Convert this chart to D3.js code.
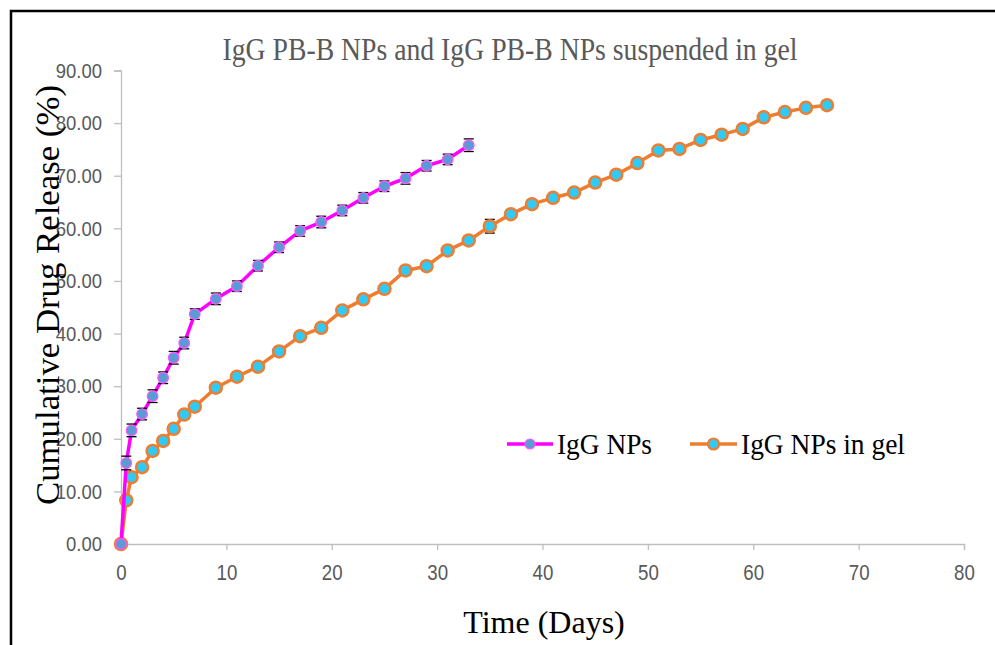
<!DOCTYPE html>
<html>
<head>
<meta charset="utf-8">
<script src="https://cdn.jsdelivr.net/npm/d3@7"></script>
<style>
  html, body { margin: 0; padding: 0; background: #fff; }
  svg { display: block; }
</style>
</head>
<body>
<svg id="chart" width="995" height="645"></svg>
<script>
// ---- Data ----
const npDays   = [0, 0.5, 1, 2, 3, 4, 5, 6, 7, 9, 11, 13, 15, 17, 19, 21, 23, 25, 27, 29, 31, 33];
const npValues = [0, 15.4, 21.6, 24.7, 28.1, 31.6, 35.4, 38.2, 43.7, 46.6, 49.0, 52.9, 56.4, 59.5, 61.2, 63.4, 65.8, 68.0, 69.5, 71.9, 73.1, 75.8];
const npErrors = [0, 1.3, 1.2, 1.1, 1.2, 1.1, 1.2, 1.1, 1.0, 1.1, 1.0, 1.0, 1.0, 1.0, 1.1, 1.0, 1.0, 1.0, 1.1, 1.0, 1.0, 1.2];

const gelDays   = [0, 0.5, 1, 2, 3, 4, 5, 6, 7, 9, 11, 13, 15, 17, 19, 21, 23, 25, 27, 29, 31, 33, 35, 37, 39, 41, 43, 45, 47, 49, 51, 53, 55, 57, 59, 61, 63, 65, 67];
const gelValues = [0, 8.3, 12.7, 14.6, 17.7, 19.6, 21.9, 24.6, 26.1, 29.7, 31.8, 33.7, 36.6, 39.5, 41.1, 44.4, 46.5, 48.5, 52.0, 52.8, 55.8, 57.7, 60.4, 62.7, 64.6, 65.8, 66.8, 68.7, 70.2, 72.4, 74.8, 75.1, 76.8, 77.8, 78.9, 81.1, 82.1, 82.9, 83.4];
const gelErrors = [0, 0.8, 0.8, 0.8, 0.8, 0.8, 0.8, 0.8, 0.8, 0.8, 0.8, 0.8, 0.8, 0.8, 0.8, 0.8, 0.8, 0.8, 0.8, 0.8, 0.8, 0.8, 1.3, 0.8, 0.8, 0.8, 0.8, 0.8, 0.8, 0.8, 0.8, 0.8, 0.8, 0.8, 0.8, 0.8, 0.8, 0.8, 0.8];

const xTicks = [0, 10, 20, 30, 40, 50, 60, 70, 80];
const yTicks = [0, 10, 20, 30, 40, 50, 60, 70, 80, 90];

const titleText = "IgG PB-B NPs and IgG PB-B NPs suspended in gel";
const xTitle = "Time (Days)";
const yTitle = "Cumulative Drug Release (%)";
const seriesNames = ["IgG NPs", "IgG NPs in gel"];

// ---- Drawing ----
const svg = d3.select("#chart");
const x = d3.scaleLinear().domain([0, 80]).range([121, 964]);
const y = d3.scaleLinear().domain([0, 90]).range([544, 70.5]);

// frame
svg.append("rect").attr("x", 11).attr("y", 11).attr("width", 1000).attr("height", 700)
  .attr("fill", "none").attr("stroke", "#000").attr("stroke-width", 2.5);

const tickFont = "'Liberation Sans', Arial, sans-serif";
const serif = "'Liberation Serif', 'Times New Roman', serif";

function condense(sel, k) {
  sel.each(function () {
    const w = this.getComputedTextLength();
    d3.select(this).attr("textLength", w * k).attr("lengthAdjust", "spacingAndGlyphs");
  });
}

// x axis
const gx = svg.append("g").attr("transform", `translate(0,${y(0)})`)
  .call(d3.axisBottom(x).tickValues(xTicks).tickSize(6).tickPadding(14).tickFormat(d3.format("d")));
gx.select(".domain").attr("stroke", "#BFBFBF").attr("stroke-width", 1.3);
gx.selectAll(".tick line").attr("stroke", "#BFBFBF").attr("stroke-width", 1.3);
gx.selectAll(".tick text").attr("fill", "#595959").style("font-family", tickFont).style("font-size", "22px");
condense(gx.selectAll(".tick text"), 0.85);

// y axis
const gy = svg.append("g").attr("transform", `translate(${x(0)},0)`)
  .call(d3.axisLeft(y).tickValues(yTicks).tickSize(7).tickPadding(12).tickFormat(d3.format(".2f")));
gy.select(".domain").attr("stroke", "#BFBFBF").attr("stroke-width", 1.3);
gy.selectAll(".tick line").attr("stroke", "#BFBFBF").attr("stroke-width", 1.3);
gy.selectAll(".tick text").attr("fill", "#595959").style("font-family", tickFont).style("font-size", "21px");
condense(gy.selectAll(".tick text"), 0.88);

// title
svg.append("text").attr("x", 510).attr("y", 60).attr("text-anchor", "middle")
  .attr("fill", "#595959").style("font-family", serif)
  .style("font-size", "31px").attr("textLength", 575).attr("lengthAdjust", "spacingAndGlyphs")
  .text(titleText);

// axis titles
svg.append("text").attr("x", 544).attr("y", 633).attr("text-anchor", "middle")
  .attr("fill", "#000").style("font-family", serif)
  .style("font-size", "32px").text(xTitle);

svg.append("text").attr("transform", "translate(59,295) rotate(-90)").attr("text-anchor", "middle")
  .attr("fill", "#000").style("font-family", serif)
  .style("font-size", "33px").attr("textLength", 420).attr("lengthAdjust", "spacingAndGlyphs")
  .text(yTitle);

const npData = npDays.map((d, i) => ({ x: d, y: npValues[i], e: npErrors[i] }));
const gelData = gelDays.map((d, i) => ({ x: d, y: gelValues[i], e: gelErrors[i] }));

const line = d3.line().x(d => x(d.x)).y(d => y(d.y));

function errorBars(data) {
  const g = svg.append("g");
  data.filter(d => d.e > 0).forEach(d => {
    g.append("line").attr("x1", x(d.x)).attr("x2", x(d.x)).attr("y1", y(d.y - d.e)).attr("y2", y(d.y + d.e))
      .attr("stroke", "#000").attr("stroke-width", 1);
    [d.y - d.e, d.y + d.e].forEach(v => {
      g.append("line").attr("x1", x(d.x) - 5).attr("x2", x(d.x) + 5).attr("y1", y(v)).attr("y2", y(v))
        .attr("stroke", "#000").attr("stroke-width", 1.3);
    });
  });
}

// gel series
svg.append("path").datum(gelData).attr("d", line).attr("fill", "none")
  .attr("stroke", "#ED7D31").attr("stroke-width", 3.5).attr("stroke-linejoin", "round");
errorBars(gelData);
svg.append("g").selectAll("circle").data(gelData).join("circle")
  .attr("cx", d => x(d.x)).attr("cy", d => y(d.y)).attr("r", 6)
  .attr("fill", "#2ECBF8").attr("stroke", "#ED7D31").attr("stroke-width", 2.5);

// NP series
svg.append("path").datum(npData).attr("d", line).attr("fill", "none")
  .attr("stroke", "#FF00FF").attr("stroke-width", 3.5).attr("stroke-linejoin", "round");
errorBars(npData);
svg.append("g").selectAll("circle").data(npData).join("circle")
  .attr("cx", d => x(d.x)).attr("cy", d => y(d.y)).attr("r", 5.3)
  .attr("fill", "#5B9BD5").attr("stroke", "#FF55FF").attr("stroke-width", 1.2);

// legend
const legendY = 444;
const leg = [
  { x0: 507, x1: 553, tx: 557, color: "#FF00FF", fill: "#5B9BD5", mstroke: "#FF55FF", sw: 1.2, r: 5, name: seriesNames[0] },
  { x0: 690, x1: 737, tx: 741, color: "#ED7D31", fill: "#2ECBF8", mstroke: "#ED7D31", sw: 2.2, r: 5.5, name: seriesNames[1] }
];
leg.forEach(l => {
  svg.append("line").attr("x1", l.x0).attr("x2", l.x1).attr("y1", legendY).attr("y2", legendY)
    .attr("stroke", l.color).attr("stroke-width", 3.5);
  svg.append("circle").attr("cx", (l.x0 + l.x1) / 2).attr("cy", legendY).attr("r", l.r)
    .attr("fill", l.fill).attr("stroke", l.mstroke).attr("stroke-width", l.sw);
  svg.append("text").attr("x", l.tx).attr("y", legendY + 10).attr("fill", "#000")
    .style("font-family", serif).style("font-size", "29px")
    .attr("textLength", l.name === seriesNames[0] ? 95 : 164).attr("lengthAdjust", "spacingAndGlyphs")
    .text(l.name);
});
</script>
</body>
</html>
